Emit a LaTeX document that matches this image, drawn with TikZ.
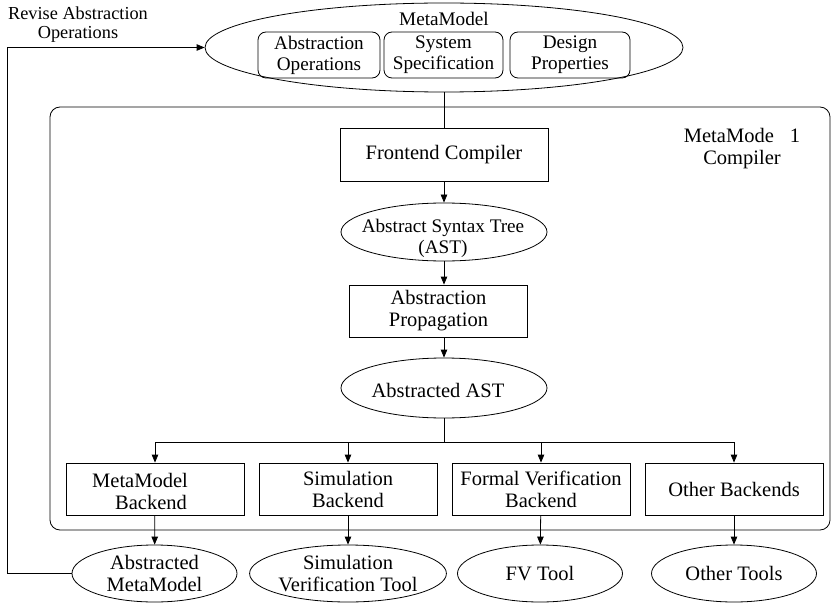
\documentclass[tikz,border=0pt]{standalone}
\usepackage{fontspec}
\setmainfont{Liberation Serif}
\usetikzlibrary{shapes.geometric,arrows.meta}
\begin{document}
\begin{tikzpicture}[x=1pt,y=-1pt,
  line width=0.8pt,
  every node/.style={font=\fontsize{20.5}{22}\selectfont, inner sep=0pt, align=center},
  small/.style={font=\fontsize{19.2}{21}\selectfont},
  note/.style={font=\fontsize{18.3}{19.5}\selectfont},
  plain/.style={draw, rectangle},
  rbox/.style={draw, rectangle, rounded corners=8pt, minimum height=46},
  ell/.style={draw, ellipse},
  bk/.style={draw, rectangle, minimum width=178, minimum height=52},
  tool/.style={draw, ellipse, minimum width=165, minimum height=57},
  arr/.style={-{Triangle[length=8pt,width=6.5pt]}}
]
\useasboundingbox (0,0) rectangle (832,604);

% MetaModel ellipse with its three parts
\node[ell, minimum width=478, minimum height=89] (mm) at (444,47.5) {};
\node[small] (mmlbl) at (444,19) {MetaModel};
\node[rbox, small, minimum width=122] (absop) at (319,55) {Abstraction\\Operations};
\node[rbox, small, minimum width=119] (sysspec) at (443.5,55) {System\\Specification};
\node[rbox, small, minimum width=120] (dprop) at (570,55) {Design\\Properties};

% compiler frame
\node[draw, rectangle, rounded corners=10pt, minimum width=780, minimum height=423] (compiler) at (440,318.5) {};
\node (cmplbl) at (742,149) {MetaMode\hspace{16pt}1\\Compiler};

% front end chain
\node[plain, minimum width=208, minimum height=53] (fe) at (444,154.5) {Frontend Compiler};
\node[ell, minimum width=206, minimum height=58] (ast) at (444,232) {};
\node[small] (astlbl) at (443,238) {Abstract Syntax Tree\\(AST)};
\node[plain, minimum width=178, minimum height=52] (prop) at (438.5,311) {Abstraction\\Propagation};
\node[ell, minimum width=206, minimum height=60] (aast) at (444,388) {};
\node (aastlbl) at (438,390) {Abstracted AST};
\coordinate (bus) at (444,442);

% back ends
\node[bk] (b1) at (155,489) {};
\node (b1lbl) at (140,491) {MetaModel\\\hspace*{22pt}Backend};
\node[bk] (b2) at (348,489) {Simulation\\Backend};
\node[bk] (b3) at (541,489) {Formal Verification\\Backend};
\node[bk] (b4) at (734,489) {Other Backends};

% tools
\node[tool] (t1) at (154.5,573.5) {Abstracted\\MetaModel};
\node[tool] (t2) at (348,573.5) {Simulation\\Verification Tool};
\node[tool] (t3) at (540,573.5) {FV Tool};
\node[tool] (t4) at (734,573.5) {Other Tools};

% feedback label
\node[note] (revise) at (78,24.6) {Revise Abstraction\\Operations};
\coordinate (fb) at (7,47.5);

% connectors
\draw (mm.south) -- (fe.north);
\draw[arr] (fe) -- (ast);
\draw[arr] (ast.south) -- (ast.south |- prop.north);
\draw[arr] (ast.south |- prop.south) -- (aast.north);
\draw (aast.south) -- (bus);
\draw[arr] (bus) -| (b1.north);
\draw[arr] (bus) -| (b2.north);
\draw[arr] (bus) -| (b3.north);
\draw[arr] (bus) -| (b4.north);
\draw[arr] (b1) -- (t1);
\draw[arr] (b2) -- (t2);
\draw[arr] (b3) -- (t3);
\draw[arr] (b4) -- (t4);
\draw[arr] (t1.west) -| (fb) -- (mm.west);
\end{tikzpicture}
\end{document}
